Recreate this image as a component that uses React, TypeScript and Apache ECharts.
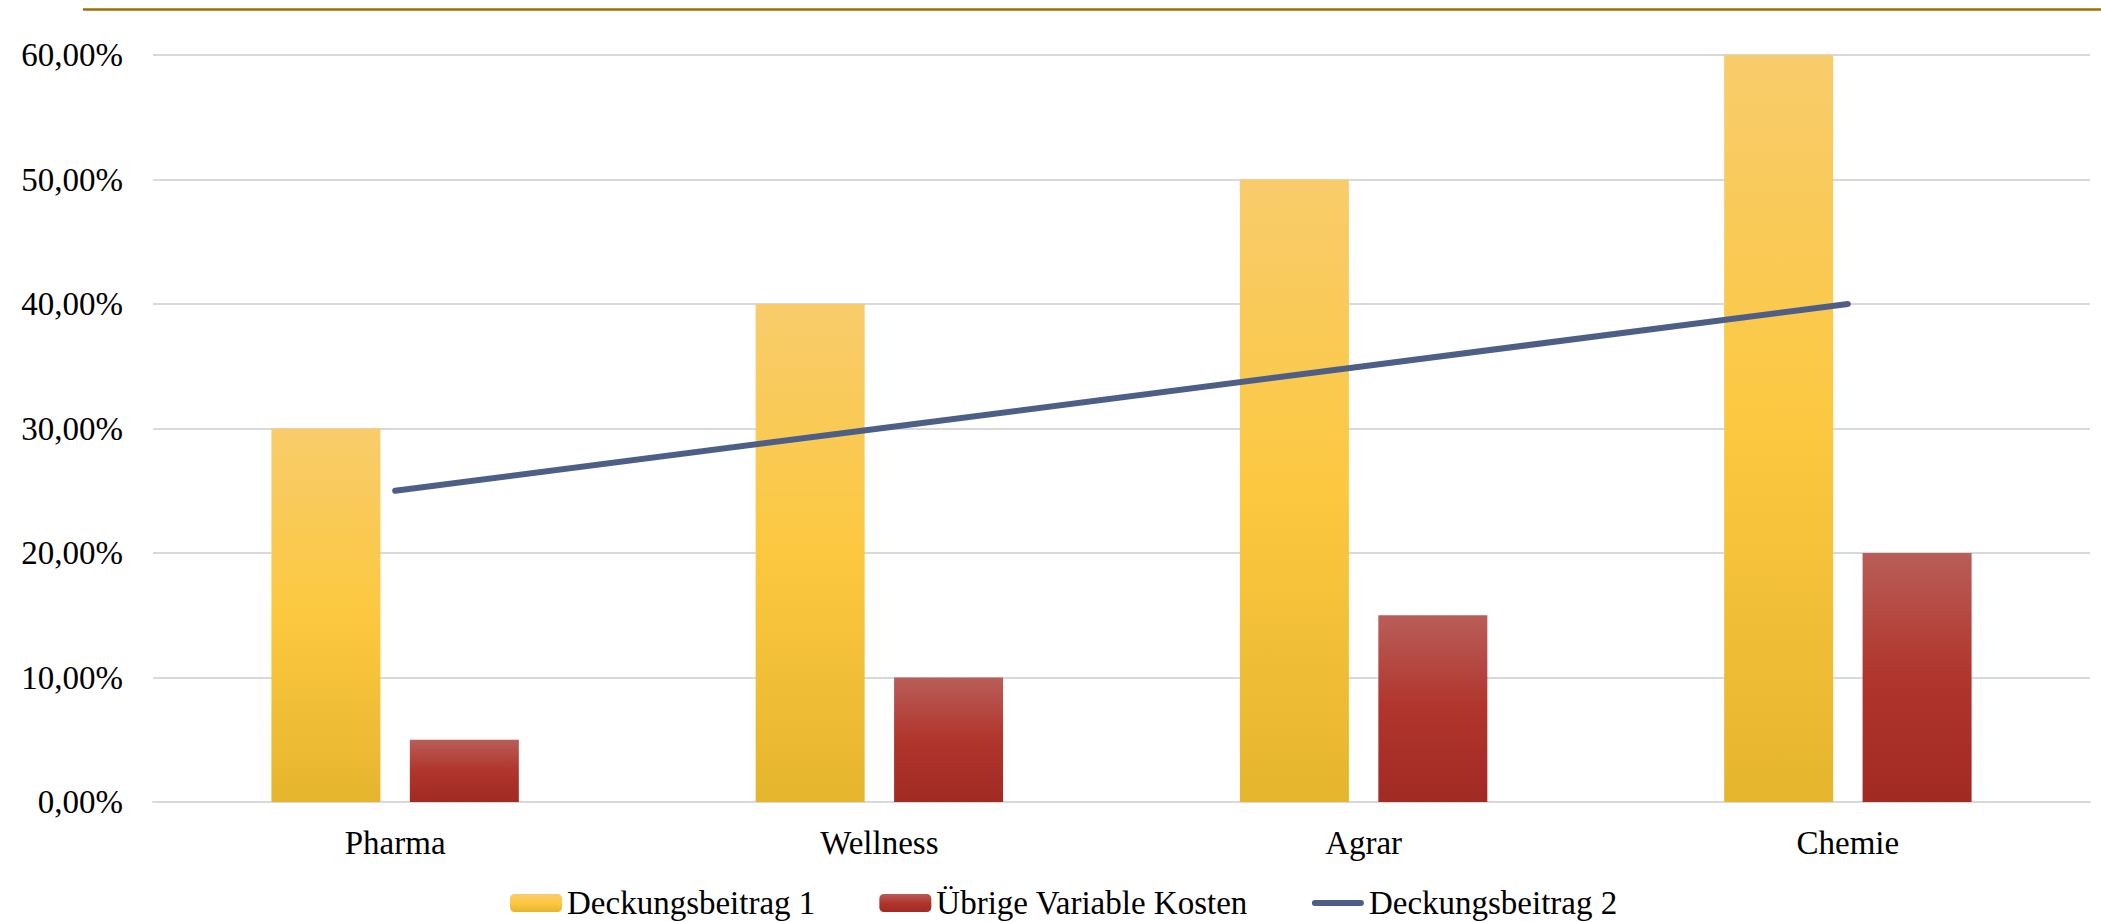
import React, { useEffect, useRef } from "react";
import * as echarts from "echarts";

const categories = ["Pharma", "Wellness", "Agrar", "Chemie"];
const deckungsbeitrag1 = [0.3, 0.4, 0.5, 0.6];
const uebrigeKosten = [0.05, 0.1, 0.15, 0.2];
const deckungsbeitrag2 = [0.25, 0.3, 0.35, 0.4];
const seriesNames = ["Deckungsbeitrag 1", "Übrige Variable Kosten", "Deckungsbeitrag 2"];

const FONT = "'Liberation Serif', 'Times New Roman', serif";
const LINE_ICON = "path://M3.25,0 H53.75 A3.25,3.25 0 0 1 53.75,6.5 H3.25 A3.25,3.25 0 0 1 3.25,0 Z";

export default function App() {
  const ref = useRef<HTMLDivElement>(null);
  useEffect(() => {
    if (!ref.current) return;
    const chart = echarts.init(ref.current, undefined, { renderer: "svg" });
    const yellow = new echarts.graphic.LinearGradient(0, 0, 0, 1, [
      { offset: 0, color: "#F8CC6B" },
      { offset: 0.5, color: "#FCC840" },
      { offset: 1, color: "#E6B52E" },
    ]);
    const red = new echarts.graphic.LinearGradient(0, 0, 0, 1, [
      { offset: 0, color: "#B95D58" },
      { offset: 0.5, color: "#B0352C" },
      { offset: 1, color: "#A12A23" },
    ]);
    chart.setOption({
      animation: false,
      backgroundColor: "#ffffff",
      textStyle: { fontFamily: FONT },
      graphic: [
        {
          type: "line",
          shape: { x1: 83, y1: 9.5, x2: 2101, y2: 9.5 },
          style: { stroke: "#9B7103", lineWidth: 2.5 },
        },
      ],
      grid: { left: 153, right: 11, top: 55, bottom: 120, containLabel: false },
      legend: {
        top: 880,
        left: 505,
        padding: 5,
        itemWidth: 52,
        itemHeight: 18,
        itemGap: 64,
        textStyle: { fontFamily: FONT, fontSize: 33, color: "#000", lineHeight: 36 },
        data: [
          { name: seriesNames[0] },
          { name: seriesNames[1] },
          { name: seriesNames[2], icon: LINE_ICON },
        ],
      },
      xAxis: {
        type: "category",
        data: categories,
        axisLine: { show: true, lineStyle: { color: "#d9d9d9", width: 2 } },
        axisTick: { show: false },
        axisLabel: { fontFamily: FONT, fontSize: 33, color: "#000", margin: 24 },
      },
      yAxis: {
        type: "value",
        min: 0,
        max: 0.6,
        interval: 0.1,
        axisLine: { show: false },
        axisTick: { show: false },
        splitLine: { lineStyle: { color: "#d9d9d9", width: 2 } },
        axisLabel: {
          fontFamily: FONT,
          fontSize: 33,
          color: "#000",
          margin: 30,
          formatter: (v: number) => (v * 100).toFixed(2).replace(".", ",") + "%",
        },
      },
      series: [
        {
          name: seriesNames[0],
          type: "bar",
          data: deckungsbeitrag1,
          barWidth: 109,
          barGap: "27%",
          itemStyle: { color: yellow },
        },
        {
          name: seriesNames[1],
          type: "bar",
          data: uebrigeKosten,
          barWidth: 109,
          itemStyle: { color: red },
        },
        {
          name: seriesNames[2],
          type: "line",
          data: deckungsbeitrag2,
          symbol: "none",
          lineStyle: { color: "#4E5F87", width: 6, cap: "round" },
          itemStyle: { color: "#4E5F87" },
          z: 5,
        },
      ],
    });
    return () => chart.dispose();
  }, []);
  return (
    <div
      ref={ref}
      style={{ position: "fixed", left: 0, top: 0, width: 2101, height: 922 }}
    />
  );
}
